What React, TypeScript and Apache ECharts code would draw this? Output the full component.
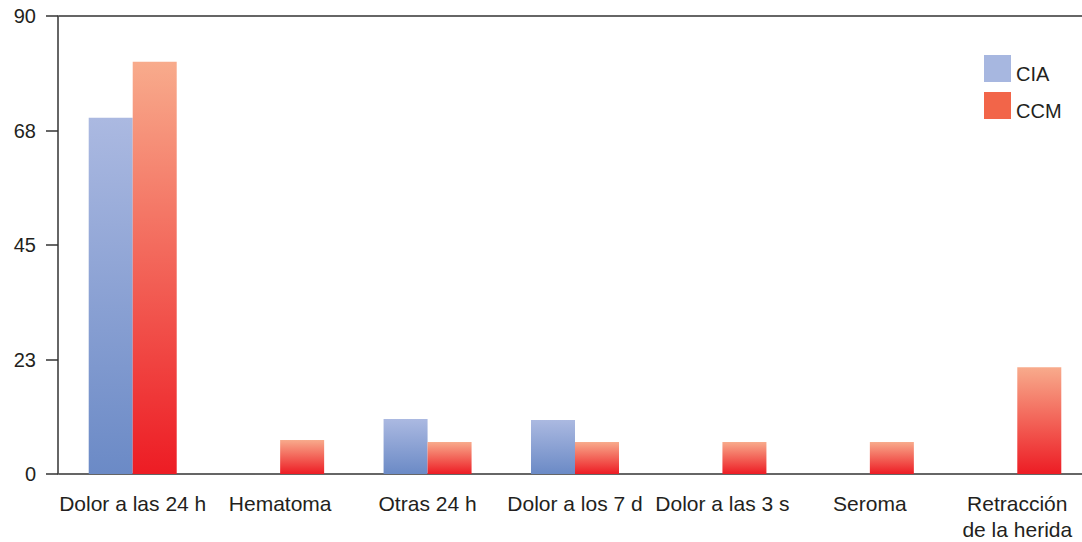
import React, { useEffect, useRef } from "react";
import * as echarts from "echarts";

const categories = [
  "Dolor a las 24 h",
  "Hematoma",
  "Otras 24 h",
  "Dolor a los 7 d",
  "Dolor a las 3 s",
  "Seroma",
  "Retracción\nde la herida",
];
const ciaValues = [70, 0, 10.8, 10.6, 0, 0, 0];
const ccmValues = [81, 6.7, 6.3, 6.3, 6.3, 6.3, 21];
const yTickLabels = ["0", "23", "45", "68", "90"];
const seriesNames = ["CIA", "CCM"];

const FONT = "'Liberation Sans', Arial, sans-serif";

export default function App() {
  const ref = useRef<HTMLDivElement>(null);
  useEffect(() => {
    if (!ref.current) return;
    const chart = echarts.init(ref.current, undefined, { renderer: "svg" });
    const grad = (top: string, bottom: string) =>
      new echarts.graphic.LinearGradient(0, 0, 0, 1, [
        { offset: 0, color: top },
        { offset: 1, color: bottom },
      ]);
    chart.setOption({
      animation: false,
      backgroundColor: "#ffffff",
      textStyle: { fontFamily: FONT, color: "#231f20" },
      grid: {
        left: 59,
        width: 1032,
        top: 16,
        bottom: 68,
        containLabel: false,
        outerBoundsMode: "none",
      },
      legend: {
        orient: "vertical",
        left: 984,
        top: 55,
        padding: 0,
        itemWidth: 27,
        itemHeight: 27,
        itemGap: 8,
        icon: "rect",
        formatter: "{t|{name}}",
        textStyle: {
          fontFamily: FONT,
          fontSize: 20,
          color: "#231f20",
          rich: { t: { fontFamily: FONT, fontSize: 20, color: "#231f20", padding: [11, 0, 0, 0] } },
        },
        data: [
          { name: seriesNames[0], itemStyle: { color: "#a7b7e0" } },
          { name: seriesNames[1], itemStyle: { color: "#f26549" } },
        ],
      },
      xAxis: [
        {
          type: "category",
          data: categories,
          position: "bottom",
          axisLine: { show: true, lineStyle: { color: "#333", width: 1.5 } },
          axisTick: { show: false },
          axisLabel: {
            interval: 0,
            fontFamily: FONT,
            fontSize: 21,
            color: "#231f20",
            margin: 16,
            lineHeight: 26,
          },
        },
        {
          type: "category",
          data: categories,
          position: "top",
          axisLine: { show: true, lineStyle: { color: "#333", width: 1.5 } },
          axisTick: { show: false },
          axisLabel: { show: false },
        },
      ],
      yAxis: {
        type: "value",
        min: 0,
        max: 90,
        interval: 22.5,
        offset: 1,
        axisLine: { show: true, lineStyle: { color: "#333", width: 1.5 } },
        axisTick: { show: true, length: 12, lineStyle: { color: "#333", width: 1.5 } },
        splitLine: { show: false },
        axisLabel: {
          fontFamily: FONT,
          fontSize: 20,
          color: "#231f20",
          margin: 22,
          formatter: (v: number) => yTickLabels[Math.round(v / 22.5)] ?? "",
        },
      },
      series: [
        {
          name: seriesNames[0],
          type: "bar",
          data: ciaValues,
          barWidth: 44,
          barGap: "0%",
          itemStyle: { color: grad("#abb9e1", "#6b8ac6") },
        },
        {
          name: seriesNames[1],
          type: "bar",
          data: ccmValues,
          barWidth: 44,
          barGap: "0%",
          itemStyle: { color: grad("#f8ab8c", "#ed1c24") },
        },
      ],
    });
    return () => chart.dispose();
  }, []);
  return (
    <div
      ref={ref}
      style={{ position: "fixed", left: 0, top: 0, width: 1082, height: 542 }}
    />
  );
}
